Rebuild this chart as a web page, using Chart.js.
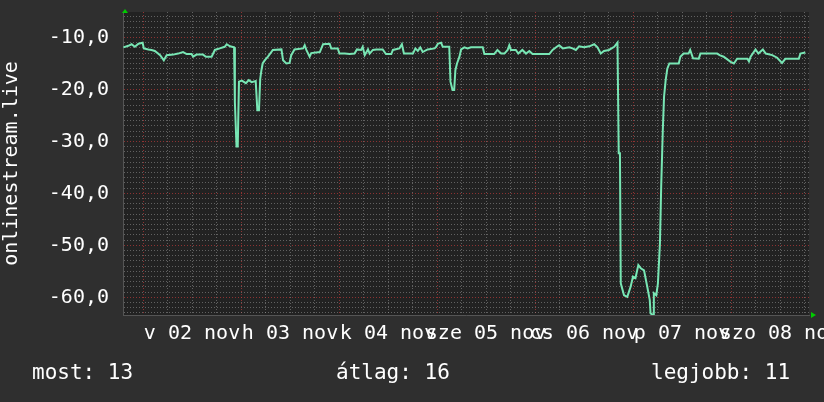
<!DOCTYPE html>
<html>
<head>
<meta charset="utf-8">
<script src="https://cdn.jsdelivr.net/npm/chart.js@4/dist/chart.umd.min.js"></script>
<style>
  html, body { margin: 0; padding: 0; background: #2f2f2f; }
  #wrap { position: relative; width: 824px; height: 402px; }
  .leg { position: absolute; top: 362px; color: #fff; font: 21px 'DejaVu Sans Mono', monospace; line-height: 21px; white-space: pre; }
</style>
</head>
<body>
<div id="wrap">
  <canvas id="c" width="824" height="402"></canvas>
  <div class="leg" style="left:32px">most: 13</div>
  <div class="leg" style="left:336px">átlag: 16</div>
  <div class="leg" style="left:651px">legjobb: 11</div>
</div>
<script>
// órák 11-02 00:00 óta
const hours = [
  -4.8, -3.6, -2.8, -2.0, -1.1, -0.1, 0.2, 1.3, 2.1, 2.9, 4.2, 5.1, 5.8, 7.4, 8.6, 9.8,
  10.7, 11.9, 12.3, 13.1, 14.7, 15.4, 16.8, 17.6, 18.8, 20.0, 20.5, 21.3, 22.3, 22.5, 22.9, 23.2,
  23.5, 24.2, 25.2, 25.9, 26.6, 27.6, 28.0, 28.4, 28.7, 29.0, 29.3, 29.8, 30.6, 31.8, 33.9, 34.3,
  35.1, 35.9, 36.3, 37.1, 39.2, 39.6, 40.0, 40.8, 41.2, 43.3, 44.1, 45.7, 46.1, 47.7, 48.1, 49.4,
  50.6, 51.8, 52.4, 53.4, 53.8, 54.3, 55.1, 55.5, 56.3, 57.1, 58.7, 59.5, 60.8, 61.2, 62.8, 63.4,
  63.9, 66.1, 66.7, 67.3, 67.9, 68.5, 69.7, 71.4, 71.8, 72.2, 73.0, 73.4, 75.0, 75.3, 75.8, 76.2,
  76.5, 76.9, 77.5, 77.9, 78.7, 79.5, 80.3, 83.2, 83.6, 86.0, 86.8, 87.7, 88.5, 89.3, 89.7, 90.1,
  91.3, 91.9, 92.9, 93.8, 94.6, 95.4, 99.5, 100.3, 101.5, 101.9, 102.8, 104.4, 105.2, 106.0, 106.8, 108.0,
  109.3, 110.5, 111.3, 112.1, 112.9, 114.1, 115.4, 116.2, 116.5, 116.8, 117.0, 117.8, 118.6, 119.4, 120.0, 120.6,
  121.3, 121.9, 122.7, 123.5, 124.1, 124.3, 124.9, 125.1, 125.7, 126.1, 126.6, 126.9, 127.3, 127.6, 128.0, 128.4,
  128.9, 131.2, 131.6, 132.4, 133.6, 134.0, 134.7, 136.1, 136.5, 140.6, 141.2, 142.2, 143.9, 144.7, 145.5, 148.0,
  148.4, 148.8, 150.0, 150.7, 151.8, 152.5, 154.1, 155.3, 156.5, 157.3, 160.6, 161.0, 162.2
];
const values = [
  -11.9, -11.6, -11.3, -11.8, -11.2, -11.0, -12.1, -12.3, -12.4, -12.6, -13.4, -14.4, -13.4, -13.3, -13.1, -12.8,
  -13.2, -13.2, -13.7, -13.3, -13.3, -13.7, -13.7, -12.4, -12.1, -11.8, -11.3, -11.7, -11.9, -22.4, -31.0, -31.0,
  -18.5, -18.3, -18.8, -18.2, -18.6, -18.4, -24.0, -24.0, -18.0, -16.3, -15.0, -14.4, -13.7, -12.4, -12.3, -14.4,
  -15.0, -14.9, -13.4, -12.3, -12.1, -11.5, -12.4, -13.7, -13.0, -12.8, -11.3, -11.2, -12.1, -12.1, -13.1, -13.1,
  -13.2, -13.1, -12.3, -12.4, -11.8, -13.4, -12.3, -13.1, -12.4, -12.3, -12.3, -13.2, -13.2, -12.4, -12.1, -11.3,
  -13.1, -13.1, -12.1, -12.6, -11.9, -12.8, -12.3, -12.1, -11.8, -11.2, -11.0, -11.8, -11.8, -18.5, -20.1, -20.1,
  -16.3, -15.0, -13.7, -12.3, -11.9, -12.1, -11.9, -11.9, -13.2, -13.2, -12.4, -13.1, -13.1, -12.4, -11.5, -12.4,
  -12.4, -13.1, -12.4, -13.1, -12.6, -13.2, -13.2, -12.4, -11.7, -11.5, -12.1, -11.9, -12.1, -12.4, -11.7, -11.9,
  -11.7, -11.3, -11.9, -13.1, -12.6, -12.4, -11.8, -11.0, -32.3, -32.3, -57.3, -59.6, -59.9, -58.0, -56.0, -56.3,
  -53.8, -54.4, -54.8, -58.0, -60.5, -63.1, -63.4, -59.2, -59.6, -57.3, -49.6, -38.7, -27.8, -21.4, -18.2, -16.0,
  -15.0, -15.0, -13.7, -13.1, -13.1, -12.4, -14.0, -14.1, -13.1, -13.1, -13.4, -13.7, -14.7, -15.0, -14.1, -14.1,
  -14.6, -13.7, -12.3, -13.1, -12.3, -13.1, -13.4, -13.9, -14.9, -14.1, -14.1, -13.1, -12.9
];
const dayLabels = ['v 02 nov', 'h 03 nov', 'k 04 nov', 'sze 05 nov', 'cs 06 nov', 'p 07 nov', 'szo 08 nov'];
const xMin = -4.9, xMax = 163.1;
const yMin = -63.4, yMax = -5.1;

const MINOR = 'rgba(160,160,160,0.5)';
const MAJOR = 'rgba(200,60,60,0.65)';
const FONT = { family: "'DejaVu Sans Mono', monospace", size: 20 };

// háttér + zöld nyilak
const frame = {
  id: 'frame',
  beforeDraw(chart) {
    const { ctx, chartArea: a } = chart;
    ctx.save();
    ctx.fillStyle = '#222222';
    ctx.fillRect(a.left, a.top, a.right - a.left, a.bottom - a.top);
    ctx.restore();
  },
  afterDraw(chart) {
    const { ctx, chartArea: a } = chart;
    ctx.save();
    ctx.fillStyle = '#00cc00';
    ctx.beginPath();
    ctx.moveTo(a.left - 1, a.top + 1);
    ctx.lineTo(a.left + 2, a.top - 3);
    ctx.lineTo(a.left + 5, a.top + 1);
    ctx.fill();
    ctx.beginPath();
    ctx.moveTo(a.right + 2, a.bottom - 3);
    ctx.lineTo(a.right + 7, a.bottom);
    ctx.lineTo(a.right + 2, a.bottom + 3);
    ctx.fill();
    ctx.restore();
  }
};

new Chart(document.getElementById('c'), {
  type: 'line',
  data: {
    datasets: [{
      data: hours.map((h, i) => ({ x: h, y: values[i] })),
      borderColor: '#78e6b4',
      borderWidth: 2,
      pointRadius: 0,
      tension: 0,
      fill: false
    }]
  },
  options: {
    responsive: false,
    animation: false,
    layout: { padding: { top: 12, right: 15, left: 0, bottom: 0 } },
    plugins: { legend: { display: false }, tooltip: { enabled: false } },
    scales: {
      x: {
        type: 'linear',
        min: xMin,
        max: xMax,
        afterFit: s => { s.height = 87; s.paddingLeft = 0; s.paddingRight = 0; },
        afterBuildTicks: s => {
          const t = [];
          for (let h = 0; h <= xMax; h += 6) t.push({ value: h });
          s.ticks = t;
        },
        grid: {
          color: c => (c.tick && c.tick.value % 24 === 0) ? MAJOR : MINOR,
          drawTicks: false
        },
        border: { display: true, color: '#555', dash: [1, 2] },
        ticks: {
          autoSkip: false,
          maxRotation: 0,
          minRotation: 0,
          padding: 7,
          color: '#fff',
          font: FONT,
          callback: v => (v % 24 === 12) ? dayLabels[(v - 12) / 24] : ''
        }
      },
      y: {
        min: yMin,
        max: yMax,
        afterFit: s => { s.width = 123; s.paddingTop = 0; s.paddingBottom = 0; },
        grid: {
          color: c => (c.tick && Math.round(c.tick.value) % 10 === 0) ? MAJOR : MINOR,
          drawTicks: false
        },
        border: { display: true, color: '#555', dash: [1, 2] },
        title: {
          display: true,
          text: 'onlinestream.live',
          color: '#fff',
          font: FONT,
          padding: 0
        },
        ticks: {
          stepSize: 1,
          includeBounds: false,
          autoSkip: false,
          padding: 14,
          color: '#fff',
          font: FONT,
          callback: v => (Math.round(v) % 10 === 0) ? v.toFixed(1).replace('.', ',') : ''
        }
      }
    }
  },
  plugins: [frame]
});
</script>
</body>
</html>
